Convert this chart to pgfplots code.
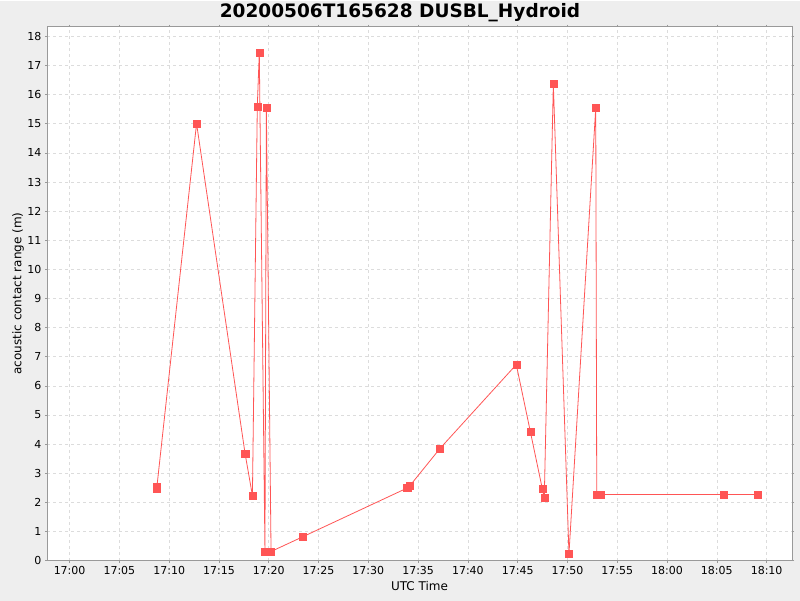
\documentclass[border=0pt]{standalone}
\usepackage{pgfplots}
\pgfplotsset{compat=1.18}
\usepackage{fontspec}
\setmainfont{DejaVu Sans}
\definecolor{bg}{HTML}{EEEEEE}
\definecolor{ser}{HTML}{FF5555}
\definecolor{gridc}{HTML}{DCDCDC}
\definecolor{axc}{HTML}{999999}
\begin{document}
\begin{tikzpicture}[x=1pt,y=1pt]
\fill[bg] (0,0) rectangle (800,600);
\begin{axis}[at={(47pt,40pt)}, anchor=south west, scale only axis,
  width=745pt, height=534pt,
  xmin=-2.27, xmax=72.55, ymin=0, ymax=18.34,
  xtick={0,5,...,70},
  xticklabels={17:00,17:05,17:10,17:15,17:20,17:25,17:30,17:35,17:40,17:45,17:50,17:55,18:00,18:05,18:10},
  ytick={0,...,18},
  axis background/.style={fill=white},
  grid=major, major grid style={gridc, dashed, line width=0.6pt},
  axis line style={axc, line width=0.8pt}, tick style={axc, line width=0.6pt},
  tick align=outside, major tick length=2pt,
  tick label style={font=\fontsize{11}{13}\selectfont},
  /pgf/number format/assume math mode=true,
  xlabel={UTC Time}, ylabel={acoustic contact range (m)},
  every axis x label/.style={at={(axis description cs:0.5,-0.0468)}, anchor=center, font=\fontsize{12}{14}\selectfont},
  every axis y label/.style={at={(axis description cs:-0.0389,0.5)}, anchor=center, rotate=90, font=\fontsize{12}{14}\selectfont},
  clip=false,
]
\addplot[ser, line width=0.8pt, mark=square*, mark size=3.6pt, mark options={fill=ser, draw=ser, line width=0.3pt}] coordinates {
(8.72,2.53) (8.75,2.48) (12.75,15.01) (17.62,3.68) (18.36,2.23)
(18.85,15.60) (19.05,17.45) (19.62,0.31) (19.76,15.56) (20.23,0.31)
(23.44,0.82) (33.90,2.49) (34.15,2.56) (37.20,3.85) (44.86,6.73)
(46.27,4.43) (47.47,2.47) (47.67,2.15) (48.58,16.37) (50.15,0.23)
(52.84,15.55) (52.94,2.27) (53.34,2.27) (65.72,2.27) (69.13,2.27)
};
\end{axis}
\node[font=\bfseries\fontsize{18.5}{20}\selectfont, anchor=center] at (400,588) {20200506T165628 DUSBL\_Hydroid};
\end{tikzpicture}
\end{document}
